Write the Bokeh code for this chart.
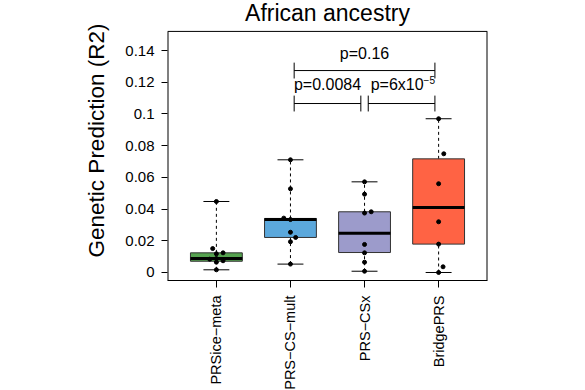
from bokeh.plotting import figure
from bokeh.models import Range1d, FixedTicker, ColumnDataSource, Title
from bokeh.embed import file_html
from bokeh.resources import INLINE
from bokeh.core.properties import value

# ---------------- data ----------------
title_text = "African ancestry"
y_label = "Genetic Prediction (R2)"
methods = ["PRSice\u2212meta", "PRS\u2212CS\u2212mult", "PRS\u2212CSx", "BridgePRS"]
box_colors = ["#55A24F", "#5BA8DC", "#9C9BCB", "#FF6344"]

lower_whisker = [0.0017, 0.0053, 0.0008, 0.0000]
q1 = [0.0071, 0.0221, 0.0126, 0.0179]
median = [0.0088, 0.0334, 0.0248, 0.0410]
q3 = [0.0124, 0.0341, 0.0383, 0.0717]
upper_whisker = [0.0448, 0.0711, 0.0572, 0.0970]

pts_prsice_meta = [0.0448, 0.0151, 0.0124, 0.0118, 0.0088, 0.0084, 0.0074, 0.0065, 0.0017]
jit_prsice_meta = [0.0, -0.05, 0.09, 0.0, 0.0, -0.09, 0.09, 0.0, 0.0]
pts_prs_cs_mult = [0.0711, 0.0528, 0.0343, 0.0334, 0.0254, 0.0221, 0.0194, 0.0053]
jit_prs_cs_mult = [0.0, 0.0, -0.09, 0.0, 0.0, 0.07, 0.0, 0.0]
pts_prs_csx = [0.0572, 0.0494, 0.0383, 0.0375, 0.0177, 0.0124, 0.0065, 0.0008]
jit_prs_csx = [0.0, 0.0, 0.09, 0.0, 0.0, 0.0, 0.0, 0.0]
pts_bridgeprs = [0.0970, 0.0749, 0.0560, 0.0320, 0.0179, 0.0036, 0.0000]
jit_bridgeprs = [0.0, 0.07, 0.0, 0.0, 0.0, 0.06, 0.0]

y_ticks = [0, 0.02, 0.04, 0.06, 0.08, 0.1, 0.12, 0.14]
y_tick_labels = ["0", "0.02", "0.04", "0.06", "0.08", "0.1", "0.12", "0.14"]

# comparisons: group a, group b, bracket height, label height, label
cmp_a = [2, 2, 3]
cmp_b = [4, 3, 4]
cmp_y = [0.1274, 0.1066, 0.1066]
cmp_text_y = [0.1380, 0.1186, 0.1186]
cmp_text = ["p=0.16", "p=0.0084", "p=6x10"]
sup_text = "\u22125"
sup_y = 0.1212

FONT = "Liberation Sans"
pos = [1, 2, 3, 4]
BOXW = 0.7
CAPW = 0.35
X0, X1 = 0.34, 4.66          # plot box (x)
Y0, Y1 = -0.00505, 0.1521    # plot box (y)
Y_TOP = 0.1716               # canvas top (room for the title)
TITLE_Y = 0.1637

p = figure(frame_width=320, frame_height=280,
           x_range=Range1d(X0, X1), y_range=Range1d(Y0, Y_TOP),
           output_backend="svg", toolbar_location=None,
           min_border_left=167, min_border_right=90,
           min_border_top=0, min_border_bottom=108,
           background_fill_color="white", border_fill_color="white")

p.xgrid.visible = False
p.ygrid.visible = False
p.outline_line_color = None

# y axis
p.yaxis.ticker = FixedTicker(ticks=y_ticks)
p.yaxis.major_label_overrides = {t: s for t, s in zip(y_ticks, y_tick_labels)}
p.yaxis.axis_line_color = None
p.yaxis.major_label_text_font = FONT
p.yaxis.major_label_text_font_size = "15px"
p.yaxis.major_tick_out = 6
p.yaxis.major_tick_in = 0
p.yaxis.minor_tick_out = 0
p.yaxis.minor_tick_in = 0
p.yaxis.major_label_standoff = 7

# y label as a left-side title (allows a small offset along the axis)
p.add_layout(Title(text=y_label, align="center", text_font=FONT, text_font_size="22.5px",
                   text_font_style="normal", text_color="black", standoff=27, offset=-12),
             "left")

# x axis
p.xaxis.ticker = FixedTicker(ticks=pos)
p.xaxis.major_label_overrides = {i: m for i, m in zip(pos, methods)}
p.xaxis.major_label_orientation = 3.14159265 / 2
p.xaxis.major_label_text_font = FONT
p.xaxis.major_label_text_font_size = "14.5px"
p.xaxis.major_tick_out = 7
p.xaxis.major_tick_in = 0
p.xaxis.minor_tick_out = 0
p.xaxis.minor_tick_in = 0
p.xaxis.major_label_standoff = 8
p.xaxis.axis_line_color = "black"

for ax in (p.xaxis[0], p.yaxis[0]):
    ax.major_tick_line_color = "black"
    ax.major_label_text_color = "black"

# plot box (top, left, right; bottom is the x axis line)
p.segment(x0=[X0], x1=[X1], y0=[Y1], y1=[Y1], line_color="black", line_width=1)
p.segment(x0=[X0, X1], x1=[X0, X1], y0=[Y0, Y0], y1=[Y1, Y1], line_color="black",
          line_width=2)

# title
p.text(x=[(X0 + X1) / 2], y=[TITLE_Y], text=[title_text], text_align="center",
       text_baseline="alphabetic", text_font=value(FONT), text_font_size="23px",
       text_color="black")

# whiskers (dashed) and caps
ws = ColumnDataSource(dict(x=pos, lo=lower_whisker, q1=q1, q3=q3, hi=upper_whisker,
                           xl=[x - CAPW / 2 for x in pos], xr=[x + CAPW / 2 for x in pos]))
p.segment(x0="x", x1="x", y0="q3", y1="hi", source=ws, line_color="black",
          line_width=1, line_dash="3 3")
p.segment(x0="x", x1="x", y0="lo", y1="q1", source=ws, line_color="black",
          line_width=1, line_dash="3 3")
p.segment(x0="xl", x1="xr", y0="hi", y1="hi", source=ws, line_color="black", line_width=1)
p.segment(x0="xl", x1="xr", y0="lo", y1="lo", source=ws, line_color="black", line_width=1)

# boxes
bs = ColumnDataSource(dict(x=pos, q1=q1, q3=q3, med=median, c=box_colors,
                           ml=[x - BOXW / 2 for x in pos], mr=[x + BOXW / 2 for x in pos]))
p.vbar(x="x", width=BOXW, bottom="q1", top="q3", source=bs, fill_color="c",
       line_color="#333333", line_width=1)
p.segment(x0="ml", x1="mr", y0="med", y1="med", source=bs, line_color="black", line_width=3)

# points
all_pts = [pts_prsice_meta, pts_prs_cs_mult, pts_prs_csx, pts_bridgeprs]
all_jit = [jit_prsice_meta, jit_prs_cs_mult, jit_prs_csx, jit_bridgeprs]
px, py = [], []
for x0, vals, jit in zip(pos, all_pts, all_jit):
    for v, j in zip(vals, jit):
        px.append(x0 + j)
        py.append(v)
p.scatter(px, py, size=4, color="black")

# significance brackets
TICK_H = 0.0050
GAP = 0.05
bx0 = [a + GAP for a in cmp_a]
bx1 = [b - GAP for b in cmp_b]
p.segment(x0=bx0, x1=bx1, y0=cmp_y, y1=cmp_y, line_color="black", line_width=1)
p.segment(x0=bx0, x1=bx0, y0=[y - TICK_H for y in cmp_y], y1=[y + TICK_H for y in cmp_y],
          line_color="black", line_width=1)
p.segment(x0=bx1, x1=bx1, y0=[y - TICK_H for y in cmp_y], y1=[y + TICK_H for y in cmp_y],
          line_color="black", line_width=1)

mid = [(a + b) / 2 for a, b in zip(cmp_a, cmp_b)]
p.text(x=mid[:2], y=cmp_text_y[:2], text=cmp_text[:2], text_align="center",
       text_baseline="alphabetic", text_font=value(FONT), text_font_size="16px",
       text_color="black")
# last label with superscript exponent
p.text(x=[mid[2]], y=[cmp_text_y[2]], text=[cmp_text[2]], text_align="right",
       text_baseline="alphabetic", text_font=value(FONT), text_font_size="16px",
       text_color="black", x_offset=22)
p.text(x=[mid[2]], y=[sup_y], text=[sup_text], text_align="left",
       text_baseline="alphabetic", text_font=value(FONT), text_font_size="10px",
       text_color="black", x_offset=22)

open("out.html", "w").write(file_html(p, INLINE))
